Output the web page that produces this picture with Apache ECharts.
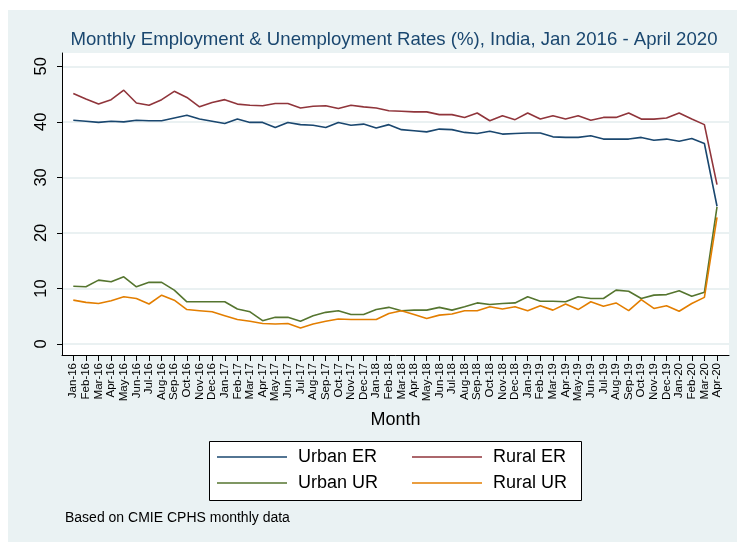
<!DOCTYPE html>
<html>
<head>
<meta charset="utf-8">
<script src="https://cdn.jsdelivr.net/npm/echarts@6/dist/echarts.min.js"></script>
<style>
  html, body { margin: 0; padding: 0; background: #fff; }
  #chart { width: 737px; height: 542px; }
</style>
</head>
<body>
<div id="chart"></div>
<script>
var months = ['Jan-16', 'Feb-16', 'Mar-16', 'Apr-16', 'May-16', 'Jun-16', 'Jul-16', 'Aug-16', 'Sep-16', 'Oct-16', 'Nov-16', 'Dec-16',
  'Jan-17', 'Feb-17', 'Mar-17', 'Apr-17', 'May-17', 'Jun-17', 'Jul-17', 'Aug-17', 'Sep-17', 'Oct-17', 'Nov-17', 'Dec-17',
  'Jan-18', 'Feb-18', 'Mar-18', 'Apr-18', 'May-18', 'Jun-18', 'Jul-18', 'Aug-18', 'Sep-18', 'Oct-18', 'Nov-18', 'Dec-18',
  'Jan-19', 'Feb-19', 'Mar-19', 'Apr-19', 'May-19', 'Jun-19', 'Jul-19', 'Aug-19', 'Sep-19', 'Oct-19', 'Nov-19', 'Dec-19',
  'Jan-20', 'Feb-20', 'Mar-20', 'Apr-20']

var urbanER = [40.3, 40.1, 39.9, 40.1, 40.0, 40.3, 40.2, 40.2, 40.7, 41.2, 40.5, 40.1,
  39.7, 40.5, 39.9, 39.9, 39.0, 39.9, 39.5, 39.4, 39.0, 39.9, 39.4, 39.6,
  38.9, 39.5, 38.6, 38.4, 38.2, 38.7, 38.6, 38.1, 37.9, 38.3, 37.8, 37.9,
  38.0, 38.0, 37.3, 37.2, 37.2, 37.5, 36.9, 36.9, 36.9, 37.2, 36.7, 36.9,
  36.5, 37.0, 36.1, 24.8]
var ruralER = [45.1, 44.1, 43.2, 44.0, 45.7, 43.4, 43.0, 44.0, 45.5, 44.4, 42.7, 43.5,
  44.0, 43.2, 43.0, 42.9, 43.3, 43.3, 42.5, 42.8, 42.9, 42.4, 43.0, 42.7,
  42.5, 42.0, 41.9, 41.8, 41.8, 41.3, 41.3, 40.8, 41.6, 40.2, 41.1, 40.4,
  41.6, 40.5, 41.1, 40.5, 41.1, 40.3, 40.8, 40.8, 41.6, 40.5, 40.5, 40.7,
  41.6, 40.5, 39.5, 28.7]
var urbanUR = [10.4, 10.3, 11.5, 11.2, 12.1, 10.3, 11.1, 11.1, 9.7, 7.6, 7.6, 7.6,
  7.6, 6.3, 5.8, 4.2, 4.8, 4.8, 4.1, 5.1, 5.7, 6.0, 5.3, 5.3,
  6.2, 6.6, 6.0, 6.1, 6.1, 6.6, 6.1, 6.7, 7.4, 7.1, 7.3, 7.4,
  8.5, 7.7, 7.7, 7.6, 8.5, 8.2, 8.2, 9.7, 9.5, 8.2, 8.8, 8.9,
  9.6, 8.6, 9.3, 24.7]
var ruralUR = [7.9, 7.5, 7.3, 7.8, 8.5, 8.2, 7.2, 8.8, 7.9, 6.2, 6.0, 5.8,
  5.1, 4.4, 4.1, 3.7, 3.6, 3.7, 2.9, 3.6, 4.1, 4.5, 4.4, 4.4,
  4.4, 5.5, 6.0, 5.3, 4.6, 5.2, 5.4, 6.0, 6.0, 6.7, 6.3, 6.7,
  6.0, 6.9, 6.1, 7.2, 6.2, 7.6, 6.8, 7.4, 6.0, 8.0, 6.4, 6.9,
  5.9, 7.3, 8.4, 22.8]
var yTicks = [0, 10, 20, 30, 40, 50]

var xTicks = months.map(function (m, i) { return i })
var font = 'Liberation Sans, Arial, Helvetica, sans-serif'

function pairs (arr) {
  return arr.map(function (v, i) { return [i, v] })
}

function line (name, data, color) {
  return {
    name: name,
    type: 'line',
    data: pairs(data),
    symbol: 'none',
    lineStyle: { color: color, width: 1.6 },
    itemStyle: { color: color },
    silent: true
  }
}

function legendCol (left, names) {
  return {
    orient: 'vertical', left: left, top: 447, padding: 0,
    icon: 'rect', itemWidth: 70, itemHeight: 1.6, itemGap: 6,
    data: names,
    textStyle: { fontSize: 18, lineHeight: 20, color: '#000', padding: [0, 0, 0, 6] }
  }
}

var chart = echarts.init(document.getElementById('chart'), null, { renderer: 'canvas' })

var option = {
  backgroundColor: '#EAF2F3',
  animation: false,
  textStyle: { fontFamily: font },
  graphic: [
    { type: 'rect', shape: { x: 0, y: 0, width: 737, height: 10 }, style: { fill: '#fff' }, silent: true },
    { type: 'rect', shape: { x: 0, y: 0, width: 8, height: 542 }, style: { fill: '#fff' }, silent: true },
    {
      type: 'text', x: 394, y: 40,
      style: {
        text: 'Monthly Employment & Unemployment Rates (%), India, Jan 2016 - April 2020',
        font: '18.6px ' + font, fill: '#1A476F', align: 'center', verticalAlign: 'middle'
      }
    },
    {
      type: 'rect', shape: { x: 209.5, y: 441.5, width: 372, height: 59 },
      style: { fill: '#fff', stroke: '#000', lineWidth: 1 }, silent: true
    },
    {
      type: 'text', x: 65, y: 518,
      style: {
        text: 'Based on CMIE CPHS monthly data',
        font: '14px ' + font, fill: '#000', align: 'left', verticalAlign: 'middle'
      }
    }
  ],
  grid: {
    left: 62, right: 8, top: 53, bottom: 187,
    show: true, backgroundColor: '#fff', borderWidth: 0
  },
  legend: [
    legendCol(217, ['Urban ER', 'Urban UR']),
    legendCol(412, ['Rural ER', 'Rural UR'])
  ],
  xAxis: {
    type: 'value',
    min: -0.895,
    max: 51.95,
    name: 'Month',
    nameLocation: 'middle',
    nameGap: 56,
    nameTextStyle: { fontSize: 18, color: '#000' },
    axisLine: { onZero: false, lineStyle: { color: '#000', width: 1 } },
    axisTick: { customValues: xTicks, length: 6, lineStyle: { color: '#000' } },
    axisLabel: {
      customValues: xTicks,
      rotate: 90,
      margin: 8,
      fontSize: 11.5,
      color: '#000',
      formatter: function (v) { return months[v] }
    },
    splitLine: { show: false }
  },
  yAxis: {
    type: 'value',
    min: -1.98,
    max: 52.4,
    axisLine: { show: true, onZero: false, lineStyle: { color: '#000', width: 1 } },
    axisTick: { show: true, customValues: yTicks, length: 5, lineStyle: { color: '#000' } },
    axisLabel: { customValues: yTicks, rotate: 90, margin: 12, fontSize: 16.5, color: '#000' },
    splitLine: { show: true, lineStyle: { color: '#E3ECEE', width: 1.5 } }
  },
  series: [
    line('Urban ER', urbanER, '#1A476F'),
    line('Rural ER', ruralER, '#90353B'),
    line('Urban UR', urbanUR, '#55752F'),
    line('Rural UR', ruralUR, '#E37E00')
  ]
}

chart.setOption(option)
</script>
</body>
</html>
